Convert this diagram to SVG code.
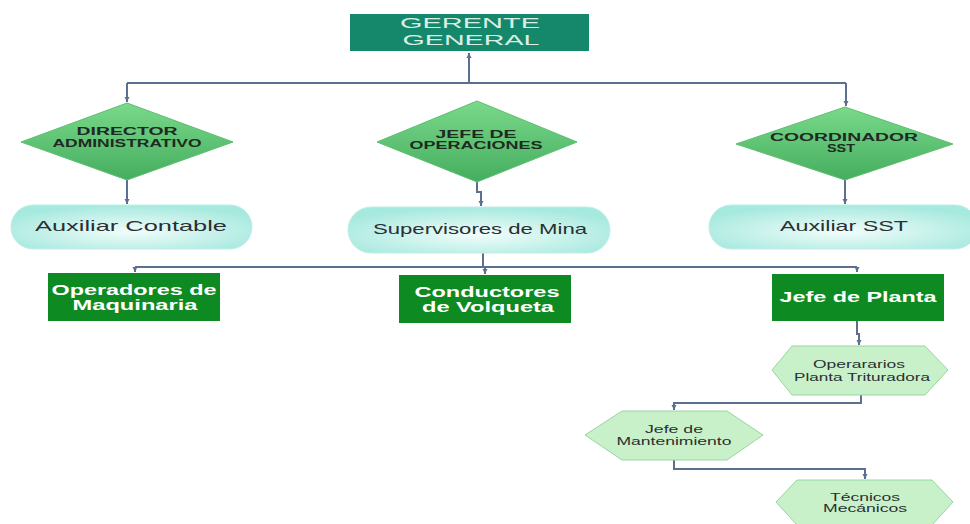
<svg xmlns="http://www.w3.org/2000/svg" width="970" height="524" viewBox="0 0 970 524">
<defs>
<linearGradient id="dg" x1="0" y1="0" x2="0" y2="1">
<stop offset="0" stop-color="#7ad98a"/>
<stop offset="1" stop-color="#45ad5f"/>
</linearGradient>
<radialGradient id="sg" cx="0.5" cy="0.6" r="0.6">
<stop offset="0" stop-color="#f2fdfb"/>
<stop offset="1" stop-color="#a6e9de"/>
</radialGradient>
<marker id="ar" markerWidth="6" markerHeight="6" refX="5" refY="3" orient="auto" markerUnits="userSpaceOnUse">
<path d="M0,0.5 L5,3 L0,5.5 Z" fill="#5b6f8e"/>
</marker>
<style>
.c{fill:none;stroke:#5b6f8e;stroke-width:2}
.t{font-family:"Liberation Sans",Arial,sans-serif;text-anchor:middle}
.top{fill:#15886c}
.topt{fill:#d8efe6;font-size:15px}
.dia{fill:url(#dg);stroke:#5cbf70;stroke-width:1}
.dt{font-size:11px;font-weight:bold;fill:#1e2a22}
.st{fill:url(#sg);stroke:#bfeee6;stroke-width:1}
.stt{font-size:15px;fill:#2a2f33}
.gb{fill:#0e8a22}
.gbt{font-size:14px;font-weight:bold;fill:#ffffff}
.hx{fill:#c9f1c9;stroke:#98d6a0;stroke-width:1}
.ht{font-size:11px;fill:#2a2f33}
</style>
</defs>
<g id="connectors">
<path class="c" d="M469,83 V53" marker-end="url(#ar)"/>
<path class="c" d="M127,83 H846"/>
<path class="c" d="M127,83 V102" marker-end="url(#ar)"/>
<path class="c" d="M846,83 V106" marker-end="url(#ar)"/>
<path class="c" d="M127,180 V204" marker-end="url(#ar)"/>
<path class="c" d="M477,182 V192 H481 V206" marker-end="url(#ar)"/>
<path class="c" d="M845,180 V204" marker-end="url(#ar)"/>
<path class="c" d="M483,253 V267"/>
<path class="c" d="M135,267 H857"/>
<path class="c" d="M135,267 V272" marker-end="url(#ar)"/>
<path class="c" d="M485,267 V274" marker-end="url(#ar)"/>
<path class="c" d="M857,267 V272" marker-end="url(#ar)"/>
<path class="c" d="M857,321 V334 H859 V345" marker-end="url(#ar)"/>
<path class="c" d="M861,395 V403 H674 V410" marker-end="url(#ar)"/>
<path class="c" d="M674,460 V469 H865 V479" marker-end="url(#ar)"/>
</g>
<g id="gerente">
<rect class="top" x="350" y="14" width="239" height="37"/>
<text class="t topt" x="470" y="27.5" textLength="140" lengthAdjust="spacingAndGlyphs">GERENTE</text>
<text class="t topt" x="471" y="45" textLength="137" lengthAdjust="spacingAndGlyphs">GENERAL</text>
</g>
<g id="director">
<polygon class="dia" points="127,103 233,142 127,180 21,142"/>
<text class="t dt" x="127" y="135" textLength="101" lengthAdjust="spacingAndGlyphs">DIRECTOR</text>
<text class="t dt" x="127" y="147" textLength="149" lengthAdjust="spacingAndGlyphs">ADMINISTRATIVO</text>
</g>
<g id="jefe-operaciones">
<polygon class="dia" points="477,101 577,142 477,182 377,142"/>
<text class="t dt" x="476" y="138" textLength="81" lengthAdjust="spacingAndGlyphs">JEFE DE</text>
<text class="t dt" x="476" y="149" textLength="133" lengthAdjust="spacingAndGlyphs">OPERACIONES</text>
</g>
<g id="coordinador">
<polygon class="dia" points="845,107 953,144 845,180 736,144"/>
<text class="t dt" x="844" y="141" textLength="148" lengthAdjust="spacingAndGlyphs">COORDINADOR</text>
<text class="t dt" x="841" y="152" textLength="28" lengthAdjust="spacingAndGlyphs">SST</text>
</g>
<g id="auxiliar-contable">
<rect class="st" x="11" y="205" width="241" height="44" rx="22"/>
<text class="t stt" x="131" y="231" textLength="192" lengthAdjust="spacingAndGlyphs">Auxiliar Contable</text>
</g>
<g id="supervisores">
<rect class="st" x="348" y="207" width="262" height="46" rx="23"/>
<text class="t stt" x="480" y="234" textLength="214" lengthAdjust="spacingAndGlyphs">Supervisores de Mina</text>
</g>
<g id="auxiliar-sst">
<rect class="st" x="709" y="205" width="268" height="44" rx="22"/>
<text class="t stt" x="844" y="231" textLength="128" lengthAdjust="spacingAndGlyphs">Auxiliar SST</text>
</g>
<g id="operadores">
<rect class="gb" x="48" y="273" width="172" height="48"/>
<text class="t gbt" x="134" y="295" textLength="165" lengthAdjust="spacingAndGlyphs">Operadores de</text>
<text class="t gbt" x="135" y="310" textLength="125" lengthAdjust="spacingAndGlyphs">Maquinaria</text>
</g>
<g id="conductores">
<rect class="gb" x="399" y="275" width="172" height="48"/>
<text class="t gbt" x="487" y="297" textLength="145" lengthAdjust="spacingAndGlyphs">Conductores</text>
<text class="t gbt" x="488" y="312" textLength="132" lengthAdjust="spacingAndGlyphs">de Volqueta</text>
</g>
<g id="jefe-planta">
<rect class="gb" x="772" y="274" width="172" height="47"/>
<text class="t gbt" x="858" y="302" textLength="157" lengthAdjust="spacingAndGlyphs">Jefe de Planta</text>
</g>
<g id="operarios">
<polygon class="hx" points="772,370 792,346 925,346 948,370 925,395 792,395"/>
<text class="t ht" x="859" y="368" textLength="92" lengthAdjust="spacingAndGlyphs">Operararios</text>
<text class="t ht" x="862" y="381" textLength="136" lengthAdjust="spacingAndGlyphs">Planta Trituradora</text>
</g>
<g id="jefe-mantenimiento">
<polygon class="hx" points="585,435 622,411 727,411 763,435 727,460 622,460"/>
<text class="t ht" x="674" y="433" textLength="58" lengthAdjust="spacingAndGlyphs">Jefe de</text>
<text class="t ht" x="674" y="445" textLength="115" lengthAdjust="spacingAndGlyphs">Mantenimiento</text>
</g>
<g id="tecnicos">
<polygon class="hx" points="776,502 797,480 932,480 953,502 932,525 797,525"/>
<text class="t ht" x="865" y="501" textLength="70" lengthAdjust="spacingAndGlyphs">Técnicos</text>
<text class="t ht" x="865" y="512" textLength="84" lengthAdjust="spacingAndGlyphs">Mecánicos</text>
</g>
</svg>
